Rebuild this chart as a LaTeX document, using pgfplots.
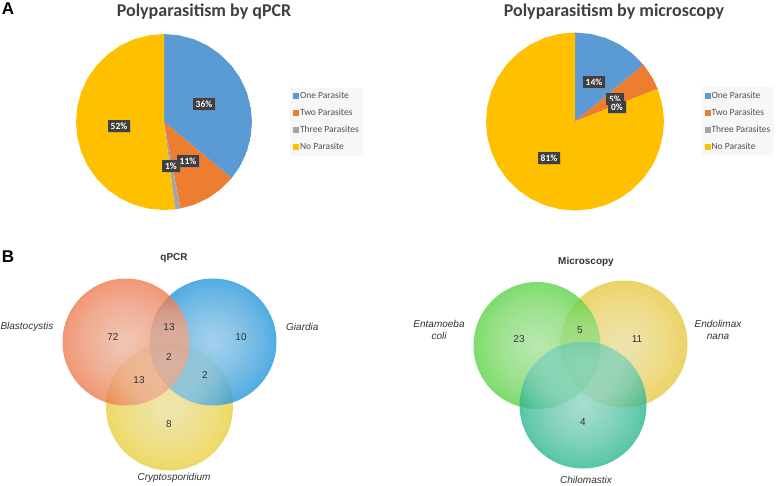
\documentclass[border=0pt]{standalone}
\usepackage{pgfplots}
\pgfplotsset{compat=1.18}
\usepgfplotslibrary{polar}
\usetikzlibrary{shadows}
\usepackage{fontspec}
\setmainfont{Liberation Sans}
\newfontfamily\calibri{Carlito}
\definecolor{pblue}{HTML}{5B9BD5}
\definecolor{porange}{HTML}{ED7D31}
\definecolor{pgrey}{HTML}{A5A5A5}
\definecolor{pgold}{HTML}{FFC000}
\definecolor{lbl}{HTML}{404040}
\definecolor{ttl}{HTML}{404040}
\definecolor{legtext}{HTML}{505050}
\definecolor{vorange}{HTML}{EC7A4E}
\definecolor{vblue}{HTML}{2E9BDB}
\definecolor{vyellow}{HTML}{EBD24E}
\definecolor{vgreen}{HTML}{5CD245}
\definecolor{vyellow2}{HTML}{E7CC4F}
\definecolor{vteal}{HTML}{2BB58F}
\definecolor{num}{HTML}{333333}
\pgfplotsset{
  pie/.style={width=176pt, height=176pt, scale only axis, hide axis, ymin=0,
    legend style={anchor=west, draw=none, fill=black!3,
      font=\calibri\fontsize{9.5}{10}\selectfont, text=legtext,
      nodes={inner sep=1pt, text height=7pt, text depth=2pt},
      row sep=6pt, inner xsep=3pt, inner ysep=3pt,
      /tikz/every even column/.append style={column sep=1.5pt}},
    legend cell align=left,
    legend image code/.code={\fill[##1] (0pt,-3pt) rectangle (6pt,3pt);}},
  venn/.style={only marks, mark=*, mark size=63.5pt},
  overlay/.style={at={(0,0)}, anchor=south west, width=778pt, height=485pt, scale only axis,
    xmin=0, xmax=778, ymin=0, ymax=485, y dir=reverse, hide axis, clip=false},
}
\tikzset{
  dl/.style={fill=lbl, text=white, font=\calibri\bfseries\fontsize{9.5}{10}\selectfont,
    inner xsep=3pt, inner ysep=2.5pt,
    drop shadow={opacity=0.35, shadow xshift=1pt, shadow yshift=-1pt}},
}
\begin{document}
\begin{tikzpicture}
\useasboundingbox (0,0) rectangle (778pt,485pt);
% ---------- Pie 1: qPCR ----------
\begin{polaraxis}[pie, at={(164pt,363pt)}, anchor=center, ymax=88,
  legend style={at={(1.215,0.5)}}]
\addplot[fill=pblue, draw=none] coordinates {(0,0) (90,88) (80,88) (70,88) (60,88) (50,88) (40,88) (30,88) (20,88) (10,88) (0,88) (-10,88) (-20,88) (-30,88) (-39.6,88) (0,0)};
\addlegendentry{One Parasite}
\addplot[fill=porange, draw=none] coordinates {(0,0) (-39.6,88) (-50,88) (-60,88) (-70,88) (-79.2,88) (0,0)};
\addlegendentry{Two Parasites}
\addplot[fill=pgrey, draw=none] coordinates {(0,0) (-79.2,88) (-82.8,88) (0,0)};
\addlegendentry{Three Parasites}
\addplot[fill=pgold, draw=none] coordinates {(0,0) (-82.8,88) (-90,88) (-100,88) (-110,88) (-120,88) (-130,88) (-140,88) (-150,88) (-160,88) (-170,88) (-180,88) (-190,88) (-200,88) (-210,88) (-220,88) (-230,88) (-240,88) (-250,88) (-260,88) (-270,88) (0,0)};
\addlegendentry{No Parasite}
\end{polaraxis}
% ---------- Pie 2: microscopy ----------
\begin{polaraxis}[pie, at={(575pt,363.5pt)}, anchor=center, ymax=89, width=178pt, height=178pt,
  legend style={at={(1.21,0.5)}}]
\addplot[fill=pblue, draw=none] coordinates {(0,0) (90,89) (80,89) (70,89) (60,89) (50,89) (39.6,89) (0,0)};
\addlegendentry{One Parasite}
\addplot[fill=porange, draw=none] coordinates {(0,0) (39.6,89) (30,89) (21.6,89) (0,0)};
\addlegendentry{Two Parasites}
\addplot[fill=pgrey, draw=none] coordinates {(0,0) (21.6,89) (0,0)};
\addlegendentry{Three Parasites}
\addplot[fill=pgold, draw=none] coordinates {(0,0) (21.6,89) (10,89) (0,89) (-10,89) (-20,89) (-30,89) (-40,89) (-50,89) (-60,89) (-70,89) (-80,89) (-90,89) (-100,89) (-110,89) (-120,89) (-130,89) (-140,89) (-150,89) (-160,89) (-170,89) (-180,89) (-190,89) (-200,89) (-210,89) (-220,89) (-230,89) (-240,89) (-250,89) (-260,89) (-270,89) (0,0)};
\addlegendentry{No Parasite}
\end{polaraxis}
% ---------- Venn circles (pixel coordinates) ----------
\begin{axis}[overlay]
% Venn qPCR
\addplot[venn, color=vyellow, mark options={fill=vyellow, fill opacity=0.85, draw opacity=0, line width=0pt}] coordinates {(169.5,407)};
\addplot[venn, color=vblue, mark options={fill=vblue, fill opacity=0.82, draw opacity=0, line width=0pt}] coordinates {(213,342)};
\addplot[venn, color=vorange, mark options={fill=vorange, fill opacity=0.78, draw opacity=0, line width=0pt}] coordinates {(126,342)};
% Venn microscopy
\addplot[venn, color=vyellow2, mark options={fill=vyellow2, fill opacity=0.85, draw opacity=0, line width=0pt}] coordinates {(624,344)};
\addplot[venn, color=vgreen, mark options={fill=vgreen, fill opacity=0.78, draw opacity=0, line width=0pt}] coordinates {(537,345.5)};
\addplot[venn, color=vteal, mark options={fill=vteal, fill opacity=0.78, draw opacity=0, line width=0pt}] coordinates {(583,405)};
% glow
\pgfplotsinvokeforeach{4,8,...,60}{
\addplot[only marks, mark=*, color=white, mark size=#1pt, mark options={fill=white, fill opacity=0.045, draw opacity=0, line width=0pt}] coordinates {(169.5,407) (213,342) (126,342) (624,344) (537,345.5) (583,405)};
}
\end{axis}
% ---------- Texts on top ----------
\begin{axis}[overlay]
% panel letters
\node[font=\bfseries\fontsize{17}{17}\selectfont] at (axis cs:8,9) {A};
\node[font=\bfseries\fontsize{17}{17}\selectfont] at (axis cs:8,257) {B};
% pie titles
\node[anchor=base, text=ttl, font=\calibri\bfseries\fontsize{18}{20}\selectfont] at (axis cs:204,16) {Polyparasitism by qPCR};
\node[anchor=base, text=ttl, font=\calibri\bfseries\fontsize{18}{20}\selectfont] at (axis cs:614,16) {Polyparasitism by microscopy};
% pie data labels
\node[dl] at (axis cs:204,104) {36\%};
\node[dl] at (axis cs:119,126) {52\%};
\node[dl] at (axis cs:188,161) {11\%};
\node[dl] at (axis cs:171,166) {1\%};
\node[dl] at (axis cs:594,82) {14\%};
\node[dl] at (axis cs:615,99) {5\%};
\node[dl] at (axis cs:617,107) {0\%};
\node[dl] at (axis cs:549,158) {81\%};
% venn texts
\begin{scope}[every node/.style={font=\fontsize{10}{12}\selectfont, text=num, inner sep=0pt}]
\node[font=\bfseries\fontsize{10}{12}\selectfont] at (axis cs:174,258) {qPCR};
\node[anchor=east, font=\itshape\fontsize{10}{12}\selectfont] at (axis cs:53.5,327) {Blastocystis};
\node[anchor=west, font=\itshape\fontsize{10}{12}\selectfont] at (axis cs:286,327) {Giardia};
\node[font=\itshape\fontsize{10}{12}\selectfont] at (axis cs:174,478) {Cryptosporidium};
\node at (axis cs:113,337) {72};
\node at (axis cs:169,327) {13};
\node at (axis cs:241,337) {10};
\node at (axis cs:169,357) {2};
\node at (axis cs:139,380) {13};
\node at (axis cs:205,375) {2};
\node at (axis cs:169,424) {8};
\node[font=\bfseries\fontsize{10}{12}\selectfont] at (axis cs:586,262) {Microscopy};
\node[align=center, font=\itshape\fontsize{10}{12}\selectfont] at (axis cs:439,330) {Entamoeba\\coli};
\node[align=center, font=\itshape\fontsize{10}{12}\selectfont] at (axis cs:718,330) {Endolimax\\nana};
\node[anchor=base, font=\itshape\fontsize{10}{12}\selectfont] at (axis cs:586,483.5) {Chilomastix};
\node at (axis cs:519,339) {23};
\node at (axis cs:580,330) {5};
\node at (axis cs:637,339) {11};
\node at (axis cs:583,422) {4};
\end{scope}
\end{axis}
\end{tikzpicture}
\end{document}
